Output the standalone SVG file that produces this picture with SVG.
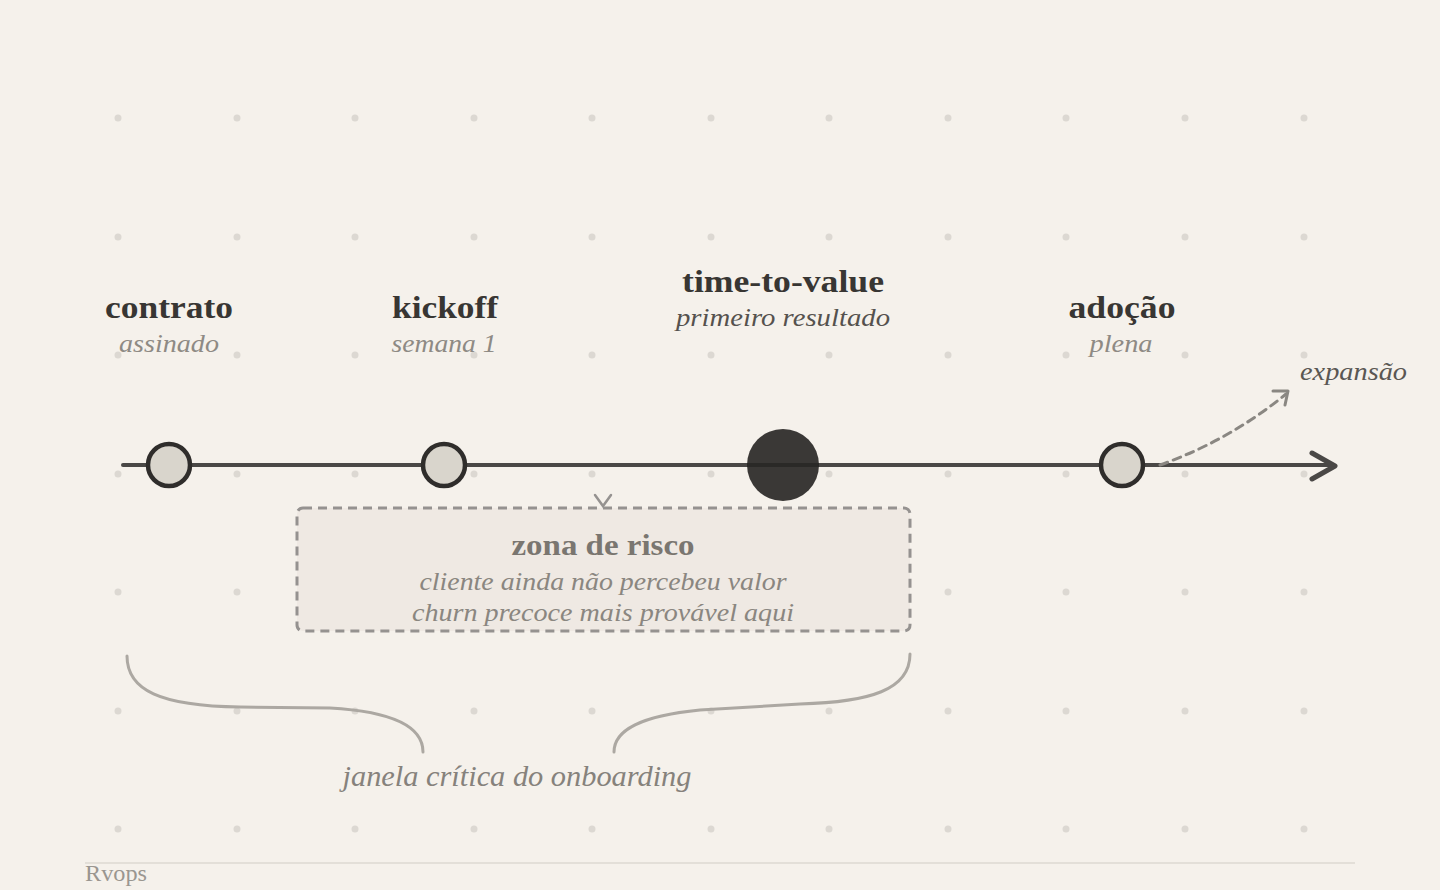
<svg xmlns="http://www.w3.org/2000/svg" width="1440" height="890" viewBox="0 0 1440 890">
<defs>
<style>
.t{font-family:"Liberation Serif","DejaVu Serif",serif;text-anchor:middle}
.b{font-weight:bold;fill:#383633}
.i{font-style:italic}
.sub{fill:#8e8a84}
.node{fill:#d9d5cc;stroke:#2f2d2b;stroke-width:4.5}
.dot{fill:#dcd8d2}
</style>
<marker id="chev" viewBox="0 0 12 12" refX="9" refY="6" markerWidth="5" markerHeight="5" orient="auto" markerUnits="userSpaceOnUse">
<path d="M2 1 L9 6 L2 11" fill="none" stroke="#888480" stroke-width="2.5" stroke-linecap="round"/>
</marker>
</defs>
<rect width="1440" height="890" fill="#f5f1eb"/>
<g id="grid">
<g class="dot">
<circle cx="118" cy="118" r="3.5"/><circle cx="237" cy="118" r="3.5"/><circle cx="355" cy="118" r="3.5"/><circle cx="474" cy="118" r="3.5"/><circle cx="592" cy="118" r="3.5"/><circle cx="711" cy="118" r="3.5"/><circle cx="829" cy="118" r="3.5"/><circle cx="948" cy="118" r="3.5"/><circle cx="1066" cy="118" r="3.5"/><circle cx="1185" cy="118" r="3.5"/><circle cx="1304" cy="118" r="3.5"/>
<circle cx="118" cy="237" r="3.5"/><circle cx="237" cy="237" r="3.5"/><circle cx="355" cy="237" r="3.5"/><circle cx="474" cy="237" r="3.5"/><circle cx="592" cy="237" r="3.5"/><circle cx="711" cy="237" r="3.5"/><circle cx="829" cy="237" r="3.5"/><circle cx="948" cy="237" r="3.5"/><circle cx="1066" cy="237" r="3.5"/><circle cx="1185" cy="237" r="3.5"/><circle cx="1304" cy="237" r="3.5"/>
<circle cx="118" cy="355" r="3.5"/><circle cx="237" cy="355" r="3.5"/><circle cx="355" cy="355" r="3.5"/><circle cx="474" cy="355" r="3.5"/><circle cx="592" cy="355" r="3.5"/><circle cx="711" cy="355" r="3.5"/><circle cx="829" cy="355" r="3.5"/><circle cx="948" cy="355" r="3.5"/><circle cx="1066" cy="355" r="3.5"/><circle cx="1185" cy="355" r="3.5"/><circle cx="1304" cy="355" r="3.5"/>
<circle cx="118" cy="474" r="3.5"/><circle cx="237" cy="474" r="3.5"/><circle cx="355" cy="474" r="3.5"/><circle cx="474" cy="474" r="3.5"/><circle cx="592" cy="474" r="3.5"/><circle cx="711" cy="474" r="3.5"/><circle cx="829" cy="474" r="3.5"/><circle cx="948" cy="474" r="3.5"/><circle cx="1066" cy="474" r="3.5"/><circle cx="1185" cy="474" r="3.5"/><circle cx="1304" cy="474" r="3.5"/>
<circle cx="118" cy="592" r="3.5"/><circle cx="237" cy="592" r="3.5"/><circle cx="355" cy="592" r="3.5"/><circle cx="474" cy="592" r="3.5"/><circle cx="592" cy="592" r="3.5"/><circle cx="711" cy="592" r="3.5"/><circle cx="829" cy="592" r="3.5"/><circle cx="948" cy="592" r="3.5"/><circle cx="1066" cy="592" r="3.5"/><circle cx="1185" cy="592" r="3.5"/><circle cx="1304" cy="592" r="3.5"/>
<circle cx="118" cy="711" r="3.5"/><circle cx="237" cy="711" r="3.5"/><circle cx="355" cy="711" r="3.5"/><circle cx="474" cy="711" r="3.5"/><circle cx="592" cy="711" r="3.5"/><circle cx="711" cy="711" r="3.5"/><circle cx="829" cy="711" r="3.5"/><circle cx="948" cy="711" r="3.5"/><circle cx="1066" cy="711" r="3.5"/><circle cx="1185" cy="711" r="3.5"/><circle cx="1304" cy="711" r="3.5"/>
<circle cx="118" cy="829" r="3.5"/><circle cx="237" cy="829" r="3.5"/><circle cx="355" cy="829" r="3.5"/><circle cx="474" cy="829" r="3.5"/><circle cx="592" cy="829" r="3.5"/><circle cx="711" cy="829" r="3.5"/><circle cx="829" cy="829" r="3.5"/><circle cx="948" cy="829" r="3.5"/><circle cx="1066" cy="829" r="3.5"/><circle cx="1185" cy="829" r="3.5"/><circle cx="1304" cy="829" r="3.5"/>
</g>
</g>
<g id="zona-risco">
<rect x="297" y="508" width="613" height="123" rx="6" fill="#efe9e3" stroke="#959290" stroke-width="3" stroke-dasharray="9 6"/>
<text class="t b" x="603" y="555" font-size="29" style="fill:#7a7670" textLength="183" lengthAdjust="spacingAndGlyphs">zona de risco</text>
<text class="t i" x="603" y="590" font-size="26" fill="#8a8680" textLength="367" lengthAdjust="spacingAndGlyphs">cliente ainda não percebeu valor</text>
<text class="t i" x="603" y="621" font-size="26" fill="#8a8680" textLength="382" lengthAdjust="spacingAndGlyphs">churn precoce mais provável aqui</text>
</g>
<g id="connectors" fill="none" stroke-linecap="round">
<line x1="123" y1="465" x2="1333" y2="465" stroke="#4a4846" stroke-width="4"/>
<path d="M1312 453 L1335 466 L1312 479" stroke="#4a4846" stroke-width="5" stroke-linejoin="round"/>
<path d="M1160 465 Q1230 440 1286 394" stroke="#8a8782" stroke-width="3" stroke-dasharray="8 6"/>
<path d="M1273 391 L1288 391 L1285 405" stroke="#8a8782" stroke-width="3" stroke-linejoin="round"/>
<path d="M595 495 L603 506 L611 495" stroke="#959290" stroke-width="2.5"/>
<path d="M127 656 C127 690 160 706 240 707 L330 708 C400 712 423 730 423 752" stroke="#aca8a2" stroke-width="3"/>
<path d="M910 654 C910 690 870 702 800 704 L700 710 C640 716 614 730 614 752" stroke="#aca8a2" stroke-width="3"/>
</g>
<g id="contrato">
<circle class="node" cx="169" cy="465" r="21"/>
<text class="t b" x="169" y="318" font-size="31" textLength="128" lengthAdjust="spacingAndGlyphs">contrato</text>
<text class="t i sub" x="169" y="352" font-size="26" textLength="100" lengthAdjust="spacingAndGlyphs">assinado</text>
</g>
<g id="kickoff">
<circle class="node" cx="444" cy="465" r="21"/>
<text class="t b" x="445" y="318" font-size="31" textLength="106" lengthAdjust="spacingAndGlyphs">kickoff</text>
<text class="t i sub" x="444" y="352" font-size="26" textLength="105" lengthAdjust="spacingAndGlyphs">semana 1</text>
</g>
<g id="time-to-value">
<circle cx="783" cy="465" r="36" fill="#3a3836"/>
<line x1="747" y1="465" x2="819" y2="465" stroke="#2a2927" stroke-width="4"/>
<text class="t b" x="783" y="292" font-size="32" textLength="202" lengthAdjust="spacingAndGlyphs">time-to-value</text>
<text class="t i" x="783" y="326" font-size="26" fill="#55524e" textLength="214" lengthAdjust="spacingAndGlyphs">primeiro resultado</text>
</g>
<g id="adocao">
<circle class="node" cx="1122" cy="465" r="21"/>
<text class="t b" x="1122" y="318" font-size="31" textLength="107" lengthAdjust="spacingAndGlyphs">adoção</text>
<text class="t i sub" x="1121" y="352" font-size="26" textLength="63" lengthAdjust="spacingAndGlyphs">plena</text>
</g>
<g id="expansao">
<text class="t i" x="1300" y="380" font-size="25" fill="#5a5753" style="text-anchor:start" textLength="107" lengthAdjust="spacingAndGlyphs">expansão</text>
</g>
<g id="janela">
<text class="t i" x="517" y="786" font-size="29" fill="#86827c" textLength="349" lengthAdjust="spacingAndGlyphs">janela crítica do onboarding</text>
</g>
<g id="footer">
<line x1="85" y1="863" x2="1355" y2="863" stroke="#dcd8d2" stroke-width="1.5"/>
<text class="t" x="85" y="881" font-size="23" fill="#9a9690" style="text-anchor:start" textLength="62" lengthAdjust="spacingAndGlyphs">Rvops</text>
</g>
</svg>
